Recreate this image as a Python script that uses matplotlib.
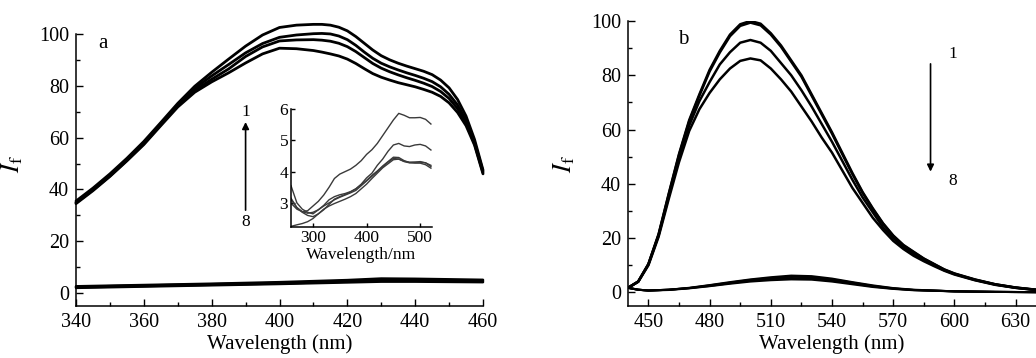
import matplotlib
matplotlib.use("Agg")
import matplotlib.pyplot as plt
from matplotlib.ticker import MultipleLocator

plt.rcParams['font.family'] = ['Liberation Serif', 'DejaVu Serif']
plt.rcParams['mathtext.fontset'] = 'stix'

# ---------------- Panel a data ----------------
wl_a = [340, 345, 350, 355, 360, 365, 370, 375, 380, 385, 390, 395, 400, 405, 410,
        412.5, 415, 417.5, 420, 422.5, 425, 427.5, 430, 432.5, 435, 437.5, 440,
        442.5, 445, 447.5, 450, 452.5, 455, 457.5, 460]
a_curve1 = [35.5, 40.5, 46, 52, 58.5, 65.8, 73.2, 79.8, 85.2, 90.3, 95.3, 99.6, 102.5, 103.4, 103.7,
            103.7, 103.4, 102.6, 101.2, 99.0, 96.4, 93.8, 91.6, 90.0, 88.7, 87.6, 86.6,
            85.6, 84.3, 82.2, 79.2, 74.7, 68.3, 59.3, 47.5]
a_curve2 = [35, 40, 45.5, 51.5, 58, 65.3, 72.6, 79, 83.8, 88.2, 92.7, 96.3, 98.7, 99.6, 100.1,
            100.2, 100.0, 99.2, 97.8, 95.6, 93.0, 90.6, 88.7, 87.3, 86.1, 85.0, 84.0,
            82.9, 81.6, 79.6, 76.7, 72.6, 66.7, 58.2, 47]
a_curve3 = [34.8, 39.8, 45.2, 51.2, 57.6, 65, 72.3, 78.2, 82.5, 86.5, 91.3, 95, 97.3, 97.7, 97.8,
            97.6, 97.2, 96.4, 95.1, 93.2, 90.9, 88.6, 86.8, 85.4, 84.2, 83.1, 82.1,
            81.0, 79.7, 77.8, 75.1, 71.2, 65.6, 57.6, 46.5]
a_curve4 = [34.5, 39.5, 45, 51, 57.3, 64.6, 71.8, 77.5, 81.5, 85, 88.8, 92.3, 94.5, 94.3, 93.6,
            93.0, 92.3, 91.5, 90.3, 88.6, 86.6, 84.7, 83.3, 82.2, 81.2, 80.4, 79.6,
            78.6, 77.5, 75.9, 73.4, 69.7, 64.6, 57.1, 46]

wl_a_low = [340, 360, 380, 400, 420, 430, 440, 460]
a_low1 = [2.6, 3.1, 3.6, 4.2, 5.0, 5.6, 5.5, 5.1]
a_low2 = [2.4, 2.9, 3.4, 3.9, 4.7, 5.2, 5.1, 4.8]
a_low3 = [2.2, 2.7, 3.2, 3.7, 4.4, 4.8, 4.8, 4.5]
a_low4 = [2.0, 2.5, 3.0, 3.5, 4.1, 4.4, 4.4, 4.2]

# ---------------- Inset data ----------------
wl_in = [259, 270, 280, 290, 300, 310, 320, 330, 340, 350, 360, 370, 380, 390,
         400, 410, 420, 430, 440, 450, 460, 470, 480, 490, 500, 510, 520]
in_curve1 = [3.1, 2.85, 2.72, 2.75, 2.9, 3.05, 3.25, 3.5, 3.78, 3.92, 4.0, 4.08, 4.2, 4.35,
             4.55, 4.7, 4.9, 5.15, 5.4, 5.65, 5.86, 5.8, 5.72, 5.72, 5.73, 5.67, 5.52]
in_curve2 = [2.99, 2.8, 2.72, 2.67, 2.7, 2.78, 2.92, 3.1, 3.2, 3.26, 3.3, 3.36, 3.45, 3.6,
             3.8, 3.95, 4.2, 4.4, 4.65, 4.85, 4.9, 4.82, 4.8, 4.85, 4.87, 4.82, 4.69]
in_curve3 = [3.15, 2.85, 2.7, 2.6, 2.56, 2.65, 2.78, 2.95, 3.12, 3.2, 3.27, 3.35, 3.45, 3.58,
             3.72, 3.88, 4.02, 4.18, 4.32, 4.46, 4.45, 4.35, 4.29, 4.3, 4.32, 4.28, 4.16]
in_curve4 = [3.55, 3.0, 2.8, 2.7, 2.65, 2.78, 2.9, 3.0, 3.1, 3.18, 3.25, 3.32, 3.4, 3.55,
             3.7, 3.85, 4.0, 4.15, 4.3, 4.42, 4.4, 4.33, 4.3, 4.3, 4.3, 4.28, 4.2]
in_curve5 = [2.25, 2.3, 2.34, 2.4, 2.5, 2.65, 2.8, 2.9, 2.98, 3.05, 3.12, 3.2, 3.3, 3.45,
             3.6, 3.78, 3.95, 4.12, 4.25, 4.38, 4.4, 4.32, 4.28, 4.27, 4.27, 4.22, 4.11]

# ---------------- Panel b data ----------------
wl_b = [440, 445, 450, 455, 460, 465, 470, 475, 480, 485, 490, 495, 500, 505, 510,
        515, 520, 525, 530, 535, 540, 545, 550, 555, 560, 565, 570, 575, 580, 585,
        590, 595, 600, 610, 620, 630, 640]
b_curve1 = [1.7, 4, 10.5, 21.5, 36.5, 51, 63.5, 73, 82, 89, 95, 98.8, 100, 99, 95.5,
            91, 85.5, 80, 73, 66, 59, 51.5, 44, 37, 31, 25.5, 21, 17.5, 15, 12.5,
            10.5, 8.5, 7, 4.8, 3, 1.8, 1.0]
b_curve2 = [1.7, 4, 10.4, 21.3, 36.2, 50.6, 63, 72.5, 81.4, 88.4, 94.4, 98.2, 99.4, 98.4, 95,
            90.5, 85, 79.5, 72.5, 65.5, 58.5, 51, 43.6, 36.7, 30.7, 25.3, 20.8, 17.3, 14.8, 12.4,
            10.4, 8.4, 6.9, 4.7, 3, 1.8, 1.0]
b_curve3 = [1.7, 4, 10.3, 21, 35.5, 49.5, 61.5, 70.5, 77.5, 84, 88.5, 92, 93, 92, 89,
            84.5, 80, 74.5, 68.5, 62, 55.5, 48.5, 41.5, 35, 29.5, 24, 20, 16.7, 14.2, 12,
            10, 8.2, 6.8, 4.6, 2.9, 1.7, 0.9]
b_curve4 = [1.7, 3.9, 10, 20.5, 34.5, 48, 59.5, 67.5, 73.5, 78.5, 82.5, 85.3, 86.2, 85.5, 82.5,
            78.5, 74, 68.5, 63, 57, 51.5, 45, 38.5, 33, 27.5, 23, 19, 16, 13.5, 11.5,
            9.7, 8, 6.6, 4.5, 2.8, 1.7, 0.9]

wl_b_low = [440, 445, 450, 460, 470, 480, 490, 500, 510, 520, 530, 540, 550, 560, 570,
            580, 600, 620, 640]
b_low1 = [1.7, 1.0, 0.7, 1.0, 1.7, 2.7, 3.8, 4.8, 5.6, 6.2, 6.0, 5.1, 3.8, 2.6, 1.6, 1.0, 0.4, 0.2, 0.1]
b_low2 = [1.7, 1.0, 0.7, 1.0, 1.6, 2.6, 3.6, 4.6, 5.3, 5.8, 5.6, 4.8, 3.6, 2.4, 1.5, 0.9, 0.4, 0.2, 0.1]
b_low3 = [1.7, 1.0, 0.7, 1.0, 1.6, 2.4, 3.4, 4.3, 4.9, 5.3, 5.1, 4.4, 3.3, 2.2, 1.4, 0.9, 0.4, 0.2, 0.1]
b_low4 = [1.7, 1.0, 0.7, 0.9, 1.5, 2.3, 3.2, 4.0, 4.5, 4.8, 4.7, 4.0, 3.0, 2.0, 1.3, 0.8, 0.4, 0.2, 0.1]

W, H = 1036, 358
fig = plt.figure(figsize=(W / 100, H / 100), dpi=100)

TICK_FS = 14.5
LABEL_FS = 15
YLABEL_FS = 19


def style_axes(ax, xmaj, xmin, ymaj, ymin, fs=TICK_FS, major_len=5, minor_len=3, pad=5):
    ax.spines['top'].set_visible(False)
    ax.spines['right'].set_visible(False)
    ax.xaxis.set_major_locator(MultipleLocator(xmaj))
    ax.yaxis.set_major_locator(MultipleLocator(ymaj))
    if xmin:
        ax.xaxis.set_minor_locator(MultipleLocator(xmin))
    if ymin:
        ax.yaxis.set_minor_locator(MultipleLocator(ymin))
    ax.tick_params(which='major', direction='in', length=major_len, width=1,
                   labelsize=fs, pad=pad)
    ax.tick_params(which='minor', direction='in', length=minor_len, width=1)
    for s in ('left', 'bottom'):
        ax.spines[s].set_linewidth(1.1)


line_kw = dict(color='black', solid_joinstyle='round', solid_capstyle='round')
YLABEL = r'$\mathit{I}_{\mathrm{f}}$'

# ---------------- Panel a ----------------
ax_a = fig.add_axes([76 / W, 1 - 306 / H, (483 - 76) / W, (306 - 21) / H])
for c in (a_curve1, a_curve2, a_curve3, a_curve4):
    ax_a.plot(wl_a, c, lw=2.0, clip_on=False, **line_kw)
for c in (a_low1, a_low2, a_low3, a_low4):
    ax_a.plot(wl_a_low, c, lw=1.8, clip_on=False, **line_kw)
ax_a.set_xlim(340, 460)
ax_a.set_ylim(-5, 105)
ax_a.spines['left'].set_bounds(-5, 100)
style_axes(ax_a, 20, 10, 20, 10)
ax_a.set_yticks([0, 20, 40, 60, 80, 100])
ax_a.set_xlabel('Wavelength (nm)', fontsize=LABEL_FS, labelpad=2)
ax_a.set_ylabel(YLABEL, fontsize=YLABEL_FS, labelpad=10)
ax_a.text(348, 96.5, 'a', fontsize=15, ha='center', va='center')
ax_a.annotate('', xy=(390, 66), xytext=(390, 32),
              arrowprops=dict(arrowstyle='-|>', color='black', lw=1.2,
                              mutation_scale=10, shrinkA=0, shrinkB=0))
ax_a.text(390, 70, '1', fontsize=12.5, ha='center', va='center')
ax_a.text(390, 27.5, '8', fontsize=12.5, ha='center', va='center')

# ---------------- Inset ----------------
ax_in = fig.add_axes([291 / W, 1 - 227 / H, (432 - 291) / W, (227 - 109) / H])
for c in (in_curve1, in_curve2, in_curve3, in_curve4, in_curve5):
    ax_in.plot(wl_in, c, color='#3a3a3a', lw=1.0, solid_joinstyle='round')
ax_in.set_xlim(259, 522)
ax_in.set_ylim(2.23, 6.0)
style_axes(ax_in, 100, None, 1, None, fs=12.5, major_len=3, pad=2)
ax_in.set_xticks([300, 400, 500])
ax_in.set_yticks([3, 4, 5, 6])
ax_in.set_xlabel('Wavelength/nm', fontsize=12.5, labelpad=1)
ax_in.patch.set_alpha(0)

# ---------------- Panel b ----------------
ax_b = fig.add_axes([628 / W, 1 - 306 / H, (1036 - 628) / W, (306 - 21) / H])
for c in (b_curve1, b_curve2, b_curve3, b_curve4):
    ax_b.plot(wl_b, c, lw=1.8, **line_kw)
for c in (b_low1, b_low2, b_low3, b_low4):
    ax_b.plot(wl_b_low, c, lw=1.5, **line_kw)
ax_b.set_xlim(440, 640)
ax_b.set_ylim(-5, 100)
style_axes(ax_b, 30, 15, 20, 10)
ax_b.set_xticks([450, 480, 510, 540, 570, 600, 630])
ax_b.set_yticks([0, 20, 40, 60, 80, 100])
ax_b.set_xlabel('Wavelength (nm)', fontsize=LABEL_FS, labelpad=2)
ax_b.set_ylabel(YLABEL, fontsize=YLABEL_FS, labelpad=10)
ax_b.text(467, 93, 'b', fontsize=15, ha='center', va='center')
ax_b.annotate('', xy=(588.3, 44.5), xytext=(588.3, 84.2),
              arrowprops=dict(arrowstyle='-|>', color='black', lw=1.2,
                              mutation_scale=10, shrinkA=0, shrinkB=0))
ax_b.text(599.2, 87.7, '1', fontsize=12.5, ha='center', va='center')
ax_b.text(599.2, 41.2, '8', fontsize=12.5, ha='center', va='center')

fig.savefig('out.png', dpi=100)
